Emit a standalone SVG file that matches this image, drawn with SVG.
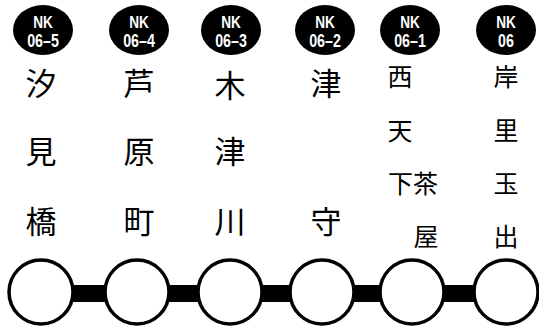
<svg xmlns="http://www.w3.org/2000/svg" width="539" height="327" viewBox="0 0 539 327">
<style>
.oval{fill:#000;}
.code{fill:#fff;font-family:"Liberation Sans",Arial,sans-serif;font-weight:bold;text-anchor:middle;}
.nk{font-size:16px;}
.num{font-size:19px;}
.name{fill:#000;font-family:"Noto Sans CJK JP","Noto Sans CJK SC",sans-serif;font-size:31px;text-anchor:middle;}
.small{font-size:25px;}
.stn{fill:#fff;stroke:#000;stroke-width:3.5;}
.bar{fill:#000;}
</style>
<rect width="539" height="327" fill="#fff"/>
<g id="connectors">
<rect class="bar" x="70" y="285" width="40" height="17"/>
<rect class="bar" x="165" y="285" width="40" height="17"/>
<rect class="bar" x="258" y="285" width="40" height="17"/>
<rect class="bar" x="350" y="285" width="40" height="17"/>
<rect class="bar" x="440" y="285" width="40" height="17"/>
</g>
<g id="nk06-5">
<ellipse class="oval" cx="43" cy="30" rx="30" ry="25"/>
<text class="code nk" x="43" y="28" transform="translate(43 0) scale(0.85 1) translate(-43 0)">NK</text>
<text class="code num" x="43" y="47" transform="translate(43 0) scale(0.75 1) translate(-43 0)">06–5</text>
<text class="name" x="41" y="95">汐</text>
<text class="name" x="41" y="163">見</text>
<text class="name" x="41" y="233">橋</text>
<circle class="stn" cx="41" cy="292" r="32"/>
</g>
<g id="nk06-4">
<ellipse class="oval" cx="139" cy="30" rx="30" ry="25"/>
<text class="code nk" x="139" y="28" transform="translate(139 0) scale(0.85 1) translate(-139 0)">NK</text>
<text class="code num" x="139" y="47" transform="translate(139 0) scale(0.75 1) translate(-139 0)">06–4</text>
<text class="name" x="139" y="95">芦</text>
<text class="name" x="139" y="163">原</text>
<text class="name" x="139" y="233">町</text>
<circle class="stn" cx="137" cy="292" r="32"/>
</g>
<g id="nk06-3">
<ellipse class="oval" cx="231" cy="30" rx="30" ry="25"/>
<text class="code nk" x="231" y="28" transform="translate(231 0) scale(0.85 1) translate(-231 0)">NK</text>
<text class="code num" x="231" y="47" transform="translate(231 0) scale(0.75 1) translate(-231 0)">06–3</text>
<text class="name" x="230" y="97">木</text>
<text class="name" x="230" y="163">津</text>
<text class="name" x="230" y="233">川</text>
<circle class="stn" cx="230" cy="292" r="32"/>
</g>
<g id="nk06-2">
<ellipse class="oval" cx="325" cy="30" rx="30" ry="25"/>
<text class="code nk" x="325" y="28" transform="translate(325 0) scale(0.85 1) translate(-325 0)">NK</text>
<text class="code num" x="325" y="47" transform="translate(325 0) scale(0.75 1) translate(-325 0)">06–2</text>
<text class="name" x="326" y="95">津</text>
<text class="name" x="326" y="233">守</text>
<circle class="stn" cx="322" cy="292" r="32"/>
</g>
<g id="nk06-1">
<ellipse class="oval" cx="410" cy="30" rx="30" ry="25"/>
<text class="code nk" x="410" y="28" transform="translate(410 0) scale(0.85 1) translate(-410 0)">NK</text>
<text class="code num" x="410" y="47" transform="translate(410 0) scale(0.75 1) translate(-410 0)">06–1</text>
<text class="name small" x="400" y="86">西</text>
<text class="name small" x="400" y="140">天</text>
<text class="name small" x="413" y="193">下茶</text>
<text class="name small" x="426" y="246">屋</text>
<circle class="stn" cx="412" cy="292" r="32"/>
</g>
<g id="nk06">
<ellipse class="oval" cx="506" cy="30" rx="30" ry="25"/>
<text class="code nk" x="506" y="28" transform="translate(506 0) scale(0.85 1) translate(-506 0)">NK</text>
<text class="code num" x="506" y="47" transform="translate(506 0) scale(0.75 1) translate(-506 0)">06</text>
<text class="name small" x="506" y="86">岸</text>
<text class="name small" x="506" y="140">里</text>
<text class="name small" x="506" y="193">玉</text>
<text class="name small" x="506" y="246">出</text>
<circle class="stn" cx="506" cy="292" r="32"/>
</g>
</svg>
